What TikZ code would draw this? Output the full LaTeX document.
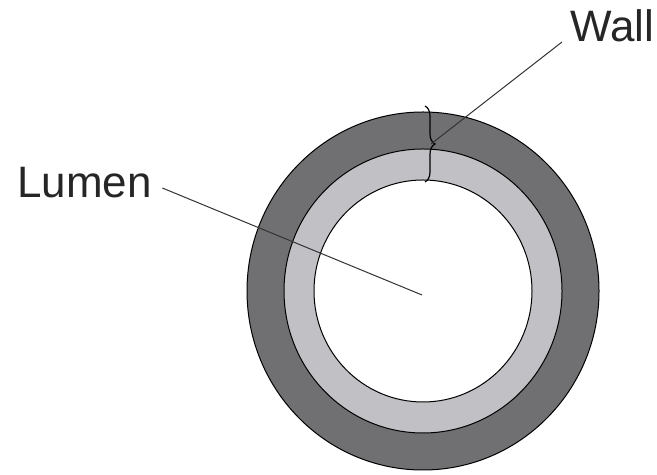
\documentclass[tikz,border=0pt]{standalone}
\usepackage{fontspec}
\setmainfont{Liberation Sans}
\usepackage{xcolor}
\usepackage{tikz}
\usetikzlibrary{decorations.pathreplacing}

\definecolor{walldark}{RGB}{112,112,114}
\definecolor{walllight}{RGB}{192,192,197}

\tikzset{
  ring/.style={draw=black, line width=0.5pt},
  label/.style={inner sep=0pt, anchor=base west, font=\fontsize{22}{26}\selectfont, text=black!85},
  pointer/.style={draw=black!80, line width=0.5pt}
}

\begin{document}
\begin{tikzpicture}[x=0.5pt,y=0.5pt]

\useasboundingbox (0,0) rectangle (657,475);

% vessel cross section
\coordinate (centre) at (423,184);
\draw[ring, fill=walldark] (centre) circle [x radius=176, y radius=179];
\draw[ring, fill=walllight] (centre) circle [x radius=139, y radius=142];
\draw[ring, fill=white] (centre) circle [x radius=109, y radius=111];

% brace over the wall thickness
\coordinate (bracetop) at (425,369);
\coordinate (bracebot) at (425,293);
\draw[line width=0.6pt, decorate, decoration={brace, amplitude=5}] (bracetop) -- (bracebot)
  coordinate[pos=0.5, xshift=3pt] (bracetip);

% labels
\node[label] (lumen) at (17,277) {Lumen};
\node[label] (wall) at (570,433) {Wall};

\draw[pointer] ([shift={(5pt,5pt)}]lumen.base east) -- ([shift={(-0.5pt,-2pt)}]centre);
\draw[pointer] ([shift={(-4pt,0pt)}]wall.base west) -- (bracetip);

\end{tikzpicture}
\end{document}
